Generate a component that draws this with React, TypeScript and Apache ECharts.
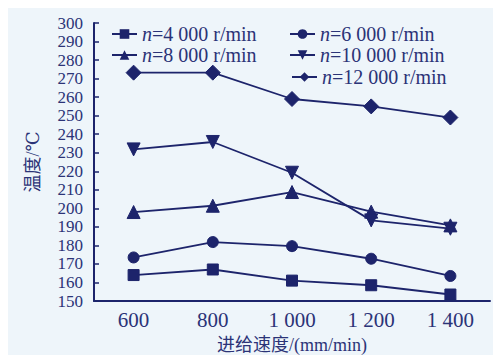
import React, { useEffect, useRef } from "react";
import * as echarts from "echarts";

const categories = ["600", "800", "1 000", "1 200", "1 400"];
const seriesNames = ["4000", "6000", "8000", "10000", "12000"];
const legendTexts = ["4 000 r/min", "6 000 r/min", "8 000 r/min", "10 000 r/min", "12 000 r/min"];
const s4000 = [164, 167, 161, 158.5, 153.5];
const s6000 = [173.5, 181.8, 179.6, 172.8, 163.5];
const s8000 = [198, 201.4, 208.8, 198.2, 190.8];
const s10000 = [231.8, 235.8, 219.2, 193.5, 189];
const s12000 = [273.2, 273.2, 259, 255, 249];
const seriesData = [s4000, s6000, s8000, s10000, s12000];
const symbols = ["rect", "circle", "triangle", "triangle", "diamond"];
const rotations = [0, 0, 0, 180, 0];
const symbolSizes = [11, 11, 13, 13, 15];

const INK = "#1d246b";
const TEXT = "#2b3377";
const SERIF = "'Liberation Serif', 'DejaVu Serif', 'Noto Sans CJK SC', serif";

export default function App() {
  const ref = useRef<HTMLDivElement>(null);
  useEffect(() => {
    if (!ref.current) return;
    const chart = echarts.init(ref.current, undefined, { renderer: "svg" });
    const legendPos = [
      { left: 111, top: 24 },
      { left: 289, top: 24 },
      { left: 111, top: 45 },
      { left: 289, top: 45 },
      { left: 291, top: 67 },
    ];
    chart.setOption({
      animation: false,
      backgroundColor: "#eef5fa",
      grid: { left: 94, right: 11, top: 23, bottom: 62 },
      legend: seriesNames.map((name, i) => ({
        data: [name],
        left: legendPos[i].left,
        top: legendPos[i].top,
        padding: 0,
        itemWidth: 25,
        itemHeight: 12,
        formatter: () => "{i|n}{t|=" + legendTexts[i] + "}",
        textStyle: {
          color: TEXT,
          rich: {
            i: { fontFamily: SERIF, fontStyle: "italic", fontSize: 20, color: TEXT, lineHeight: 18 },
            t: { fontFamily: SERIF, fontSize: 20, color: TEXT, lineHeight: 18 },
          },
        },
      })),
      xAxis: {
        type: "category",
        data: categories,
        boundaryGap: true,
        name: "进给速度/(mm/min)",
        nameLocation: "middle",
        nameGap: 35,
        nameTextStyle: { fontFamily: SERIF, fontSize: 18, color: TEXT },
        axisLine: { lineStyle: { color: INK, width: 2 } },
        axisTick: { inside: true, alignWithLabel: true, length: 5, lineStyle: { color: INK, width: 1.5 } },
        axisLabel: { fontFamily: SERIF, fontSize: 21, color: TEXT, margin: 8 },
      },
      yAxis: {
        type: "value",
        min: 150,
        max: 300,
        interval: 10,
        name: "温度/℃",
        nameLocation: "middle",
        nameGap: 52,
        nameTextStyle: { fontFamily: SERIF, fontSize: 18, color: TEXT },
        splitLine: { show: false },
        axisLine: { show: true, lineStyle: { color: INK, width: 2 } },
        axisTick: { show: true, inside: true, length: 5, lineStyle: { color: INK, width: 1.5 } },
        axisLabel: {
          fontFamily: SERIF,
          fontSize: 17,
          lineHeight: 16,
          color: TEXT,
          margin: 11,
          showMinLabel: true,
          showMaxLabel: true,
        },
      },
      series: seriesNames.map((name, i) => ({
        name,
        type: "line",
        data: seriesData[i],
        symbol: symbols[i],
        symbolSize: symbolSizes[i],
        symbolRotate: rotations[i],
        showSymbol: true,
        lineStyle: { color: INK, width: 1.8 },
        itemStyle: { color: INK, borderColor: INK },
      })),
    });
    return () => chart.dispose();
  }, []);
  return <div ref={ref} style={{ width: 501, height: 363, margin: -8 }} />;
}
